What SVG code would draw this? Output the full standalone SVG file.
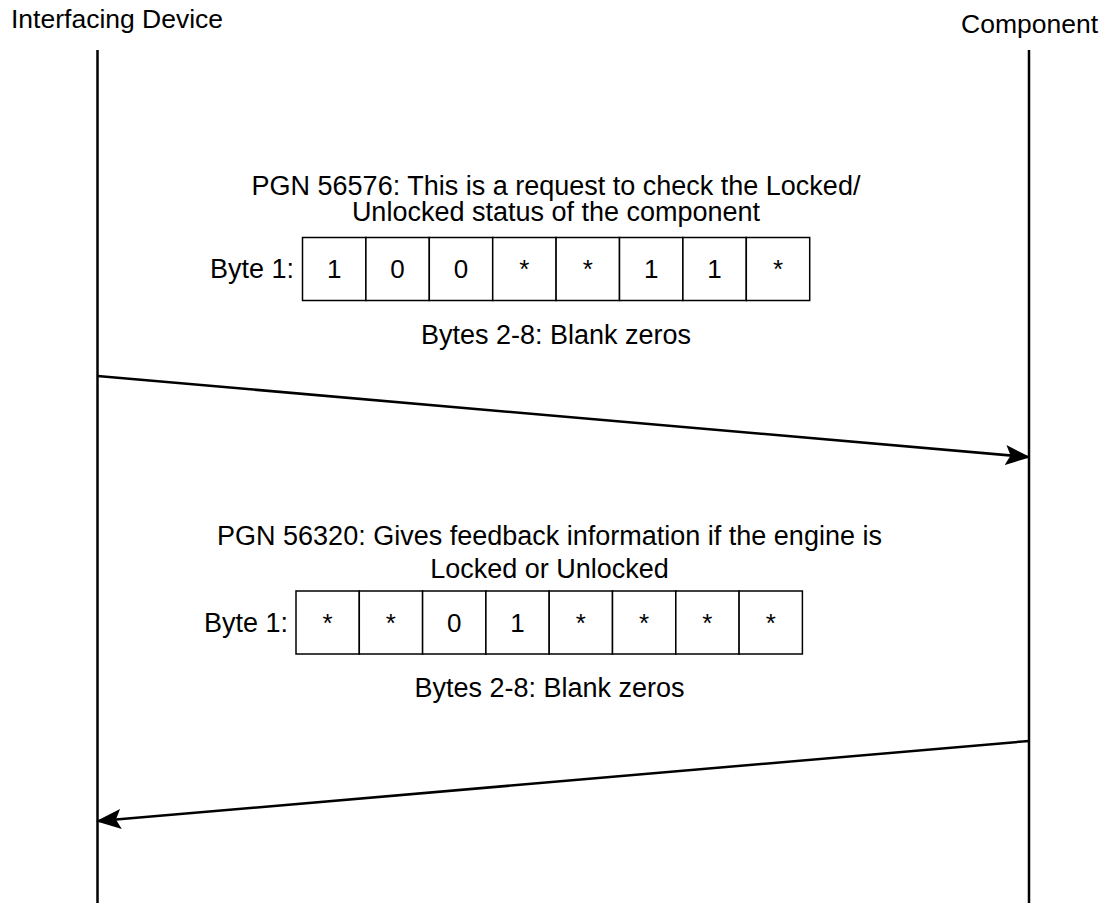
<svg xmlns="http://www.w3.org/2000/svg" width="1105" height="903" viewBox="0 0 1105 903">
<style>
text{font-family:"Liberation Sans",Arial,sans-serif;fill:#000;font-size:27px}
.c{text-anchor:middle}
.h{font-size:26.5px}
.cell{fill:#fff;stroke:#000;stroke-width:1.5}
.life{stroke:#000;stroke-width:2.5;fill:none}
.msg{stroke:#000;stroke-width:2.5;fill:none;marker-end:url(#ah)}
.d{font-size:26px;text-anchor:middle}
</style>
<defs>
<marker id="ah" markerWidth="10" markerHeight="8" refX="9" refY="4" orient="auto" markerUnits="strokeWidth">
<path d="M0,0 L10,4 L0,8 L2,4 Z" fill="#000"/>
</marker>
</defs>
<g id="interfacing-device">
<text class="h" x="11" y="28">Interfacing Device</text>
<line class="life" x1="97.5" y1="50" x2="97.5" y2="903"/>
</g>
<g id="component">
<text class="h" x="961" y="33">Component</text>
<line class="life" x1="1029" y1="50" x2="1029" y2="903"/>
</g>
<g id="request-note">
<text class="c" x="556" y="195">PGN 56576: This is a request to check the Locked/</text>
<text class="c" x="556" y="221">Unlocked status of the component</text>
<text x="294" y="278" text-anchor="end">Byte 1:</text>
<g>
<rect class="cell" x="302.5" y="237.5" width="63.4" height="63"/>
<rect class="cell" x="365.9" y="237.5" width="63.4" height="63"/>
<rect class="cell" x="429.3" y="237.5" width="63.4" height="63"/>
<rect class="cell" x="492.7" y="237.5" width="63.4" height="63"/>
<rect class="cell" x="556.1" y="237.5" width="63.4" height="63"/>
<rect class="cell" x="619.5" y="237.5" width="63.4" height="63"/>
<rect class="cell" x="682.9" y="237.5" width="63.4" height="63"/>
<rect class="cell" x="746.3" y="237.5" width="63.4" height="63"/>
</g>
<text class="d" x="334.2" y="278">1</text>
<text class="d" x="397.6" y="278">0</text>
<text class="d" x="461" y="278">0</text>
<text class="d" x="524.4" y="278">*</text>
<text class="d" x="587.8" y="278">*</text>
<text class="d" x="651.2" y="278">1</text>
<text class="d" x="714.6" y="278">1</text>
<text class="d" x="778" y="278">*</text>
<text class="c" x="556" y="344">Bytes 2-8: Blank zeros</text>
</g>
<g id="response-note">
<text class="c" x="549.5" y="545">PGN 56320: Gives feedback information if the engine is</text>
<text class="c" x="549.5" y="578">Locked or Unlocked</text>
<text x="288" y="632" text-anchor="end">Byte 1:</text>
<g>
<rect class="cell" x="296" y="591" width="63.3" height="63"/>
<rect class="cell" x="359.3" y="591" width="63.3" height="63"/>
<rect class="cell" x="422.6" y="591" width="63.3" height="63"/>
<rect class="cell" x="485.9" y="591" width="63.3" height="63"/>
<rect class="cell" x="549.2" y="591" width="63.3" height="63"/>
<rect class="cell" x="612.5" y="591" width="63.3" height="63"/>
<rect class="cell" x="675.8" y="591" width="63.3" height="63"/>
<rect class="cell" x="739.1" y="591" width="63.3" height="63"/>
</g>
<text class="d" x="327.6" y="632">*</text>
<text class="d" x="390.9" y="632">*</text>
<text class="d" x="454.2" y="632">0</text>
<text class="d" x="517.5" y="632">1</text>
<text class="d" x="580.8" y="632">*</text>
<text class="d" x="644.1" y="632">*</text>
<text class="d" x="707.4" y="632">*</text>
<text class="d" x="770.7" y="632">*</text>
<text class="c" x="549.5" y="697">Bytes 2-8: Blank zeros</text>
</g>
<g id="connectors">
<line class="msg" x1="97.5" y1="376" x2="1028" y2="457"/>
<line class="msg" x1="1029" y1="741" x2="98.5" y2="821"/>
</g>
</svg>
